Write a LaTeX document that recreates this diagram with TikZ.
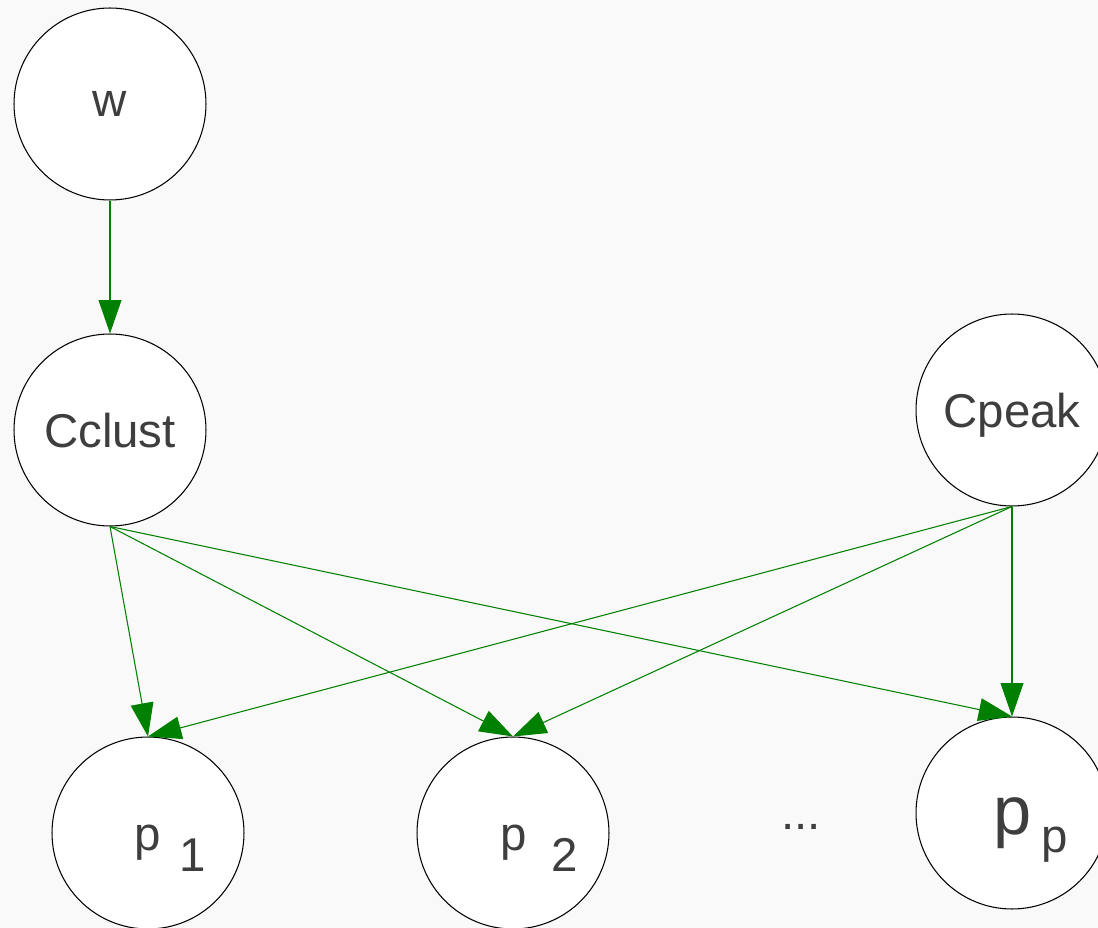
\documentclass[tikz,border=0pt]{standalone}
\usepackage{fontspec}
\setmainfont{Liberation Sans}
\usepackage{tikz}
\usetikzlibrary{arrows.meta}

\definecolor{edgegreen}{RGB}{0,128,0}
\definecolor{labelgray}{RGB}{62,62,62}

\begin{document}
\begin{tikzpicture}[x=0.02cm, y=-0.02cm,
            var/.style={circle, draw=black, fill=white, line width=0.6pt, minimum size=3.84cm, inner sep=0pt, text=labelgray, text depth=0pt, font=\fontsize{27}{32}\selectfont},
            lbl/.style={anchor=base, inner sep=0pt, text=labelgray, font=\fontsize{27}{32}\selectfont},
            dep/.style={draw=edgegreen, line width=0.6pt, -{Triangle[length=19pt, width=13pt, fill=edgegreen]}}]
            \useasboundingbox (0,0) rectangle (1098,928);
            \clip (0,0) rectangle (1098,928);
            \fill[gray!5] (0,0) rectangle (1098,928);
            % variables
            \node[var] (w) at (110,104) {w};
            \node[var] (cclust) at (110,430) {Cclust};
            \node[var] (cpeak) at (1012,410) {Cpeak};
            \node[var] (p-1) at (148,833) {};
            \node[var] (p-2) at (513,833) {};
            \node[var] (p-p) at (1012,813) {};
            % labels of the peaks
            \node[lbl] (p-1-name) at (148,850) {p};
            \node[lbl] (p-1-idx) at (193,871) {1};
            \node[lbl] (p-2-name) at (514,850) {p};
            \node[lbl] (p-2-idx) at (565,871) {2};
            \node[lbl, font=\fontsize{39}{46}\selectfont] (p-p-name) at (1013,834) {p};
            \node[lbl] (p-p-idx) at (1055,852) {p};
            \node[lbl] (dots) at (801,829) {...};
            % dependencies
            \draw[dep] (w.south) -- (cclust.north);
            \draw[dep] (cclust.south) -- (p-1.north);
            \draw[dep] (cclust.south) -- (p-2.north);
            \draw[dep] (cclust.south) -- (p-p.north);
            \draw[dep] (cpeak.south) -- (p-1.north);
            \draw[dep] (cpeak.south) -- (p-2.north);
            \draw[dep] (cpeak.south) -- (p-p.north);
        \end{tikzpicture}
\end{document}
